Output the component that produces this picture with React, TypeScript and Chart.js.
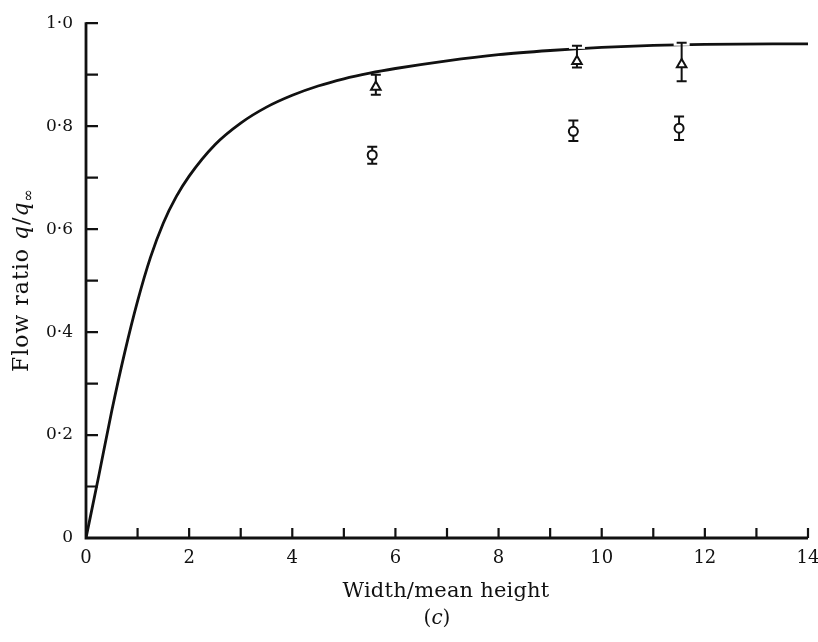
import React, { useEffect, useRef } from 'react';
import { Chart, registerables } from 'chart.js';

Chart.register(...registerables);

// Theoretical curve
const curveX = [0, 0.25, 0.5, 0.75, 1.0, 1.25, 1.5, 1.75, 2.0, 2.5, 3.0, 3.5, 4.0, 4.5, 5.0, 5.5, 6.0, 7.0, 8.0, 9.0, 10.0, 11.0, 12.0, 14.0];
const curveY = [0, 0.122, 0.247, 0.36, 0.46, 0.545, 0.612, 0.663, 0.703, 0.764, 0.806, 0.837, 0.86, 0.878, 0.892, 0.903, 0.912, 0.927, 0.939, 0.947, 0.953, 0.957, 0.959, 0.96];

// Triangle data with error bars
const triX = [5.62, 9.52, 11.55];
const triY = [0.876, 0.926, 0.92];
const triLow = [0.861, 0.914, 0.887];
const triHigh = [0.9, 0.956, 0.962];

// Circle data with error bars
const circX = [5.55, 9.45, 11.5];
const circY = [0.744, 0.79, 0.796];
const circLow = [0.727, 0.771, 0.773];
const circHigh = [0.76, 0.811, 0.819];

// Tick labels
const xTickLabels = ['0', '2', '4', '6', '8', '10', '12', '14'];
const yTickLabels = ['0', '0·2', '0·4', '0·6', '0·8', '1·0'];

const xTitle = 'Width/mean height';
const captionLetter = 'c';

const SERIF = '"DejaVu Serif", serif';

function curveAt(xv: number): number {
  for (let i = 1; i < curveX.length; i++) {
    if (xv <= curveX[i]) {
      const t = (xv - curveX[i - 1]) / (curveX[i] - curveX[i - 1]);
      return curveY[i - 1] + t * (curveY[i] - curveY[i - 1]);
    }
  }
  return curveY[curveY.length - 1];
}

export default function App() {
  const ref = useRef<HTMLCanvasElement | null>(null);

  useEffect(() => {
    document.body.style.margin = '0';
    const canvas = ref.current;
    if (!canvas) return;

    const axesPlugin = {
      id: 'axesInward',
      beforeDatasetsDraw(chart: any) {
        const { ctx, chartArea: a, scales } = chart;
        const x = scales.x;
        const y = scales.y;
        ctx.save();
        ctx.strokeStyle = '#111';
        ctx.lineCap = 'butt';
        ctx.lineWidth = 2.8;
        ctx.beginPath();
        ctx.moveTo(a.left, a.top - 1);
        ctx.lineTo(a.left, a.bottom);
        ctx.lineTo(a.right, a.bottom);
        ctx.stroke();
        ctx.lineWidth = 2.2;
        ctx.beginPath();
        for (let k = 1; k <= 10; k++) {
          const py = y.getPixelForValue(k / 10);
          ctx.moveTo(a.left, py);
          ctx.lineTo(a.left + 12, py);
        }
        for (let v = 1; v <= 14; v++) {
          const px = x.getPixelForValue(v);
          ctx.moveTo(px, a.bottom);
          ctx.lineTo(px, a.bottom - 10);
        }
        ctx.stroke();
        ctx.restore();
      },
    };

    const drawBars = (chart: any, xs: number[], lows: number[], highs: number[]) => {
      const { ctx, scales } = chart;
      const x = scales.x;
      const y = scales.y;
      for (let i = 0; i < xs.length; i++) {
        const px = x.getPixelForValue(xs[i]);
        const pl = y.getPixelForValue(lows[i]);
        const ph = y.getPixelForValue(highs[i]);
        if (highs[i] >= curveAt(xs[i])) {
          ctx.strokeStyle = '#fff';
          ctx.lineWidth = 6;
          ctx.beginPath();
          ctx.moveTo(px - 8, ph);
          ctx.lineTo(px + 8, ph);
          ctx.stroke();
        }
        ctx.strokeStyle = '#111';
        ctx.lineWidth = 2;
        ctx.beginPath();
        ctx.moveTo(px, pl);
        ctx.lineTo(px, ph);
        ctx.moveTo(px - 5, pl);
        ctx.lineTo(px + 5, pl);
        ctx.moveTo(px - 5, ph);
        ctx.lineTo(px + 5, ph);
        ctx.stroke();
      }
    };

    const errorBarPlugin = {
      id: 'errorBars',
      afterDatasetDraw(chart: any, args: any) {
        if (chart.data.datasets[args.index].label !== 'curve') return;
        const { ctx } = chart;
        ctx.save();
        drawBars(chart, triX, triLow, triHigh);
        drawBars(chart, circX, circLow, circHigh);
        ctx.restore();
      },
    };

    const drawRuns = (ctx: any, runs: any[], cx0: number, cy: number, spacing: number) => {
      let cx = cx0;
      runs.forEach((r) => {
        ctx.font = r.f;
        ctx.letterSpacing = `${spacing}px`;
        ctx.fillText(r.t, cx, cy + (r.dy || 0));
        cx += ctx.measureText(r.t).width;
      });
    };
    const measureRuns = (ctx: any, runs: any[], spacing: number) => {
      let total = 0;
      runs.forEach((r) => {
        ctx.font = r.f;
        ctx.letterSpacing = `${spacing}px`;
        total += ctx.measureText(r.t).width;
      });
      return total;
    };

    const titlesPlugin = {
      id: 'titles',
      afterDraw(chart: any) {
        const { ctx } = chart;
        ctx.save();
        ctx.fillStyle = '#111';
        ctx.textBaseline = 'alphabetic';
        ctx.textAlign = 'left';

        // x title
        const xr = [{ t: xTitle, f: `21px ${SERIF}` }];
        const xw = measureRuns(ctx, xr, 0.2);
        drawRuns(ctx, xr, 446 - xw / 2, 597, 0.2);

        // caption (c)
        const cr = [
          { t: '(', f: `20px ${SERIF}` },
          { t: captionLetter, f: `italic 20px ${SERIF}` },
          { t: ')', f: `20px ${SERIF}` },
        ];
        const cw = measureRuns(ctx, cr, 0);
        drawRuns(ctx, cr, 437 - cw / 2, 624, 0);

        // Y title with italic q and subscript infinity
        const runs = [
          { t: 'Flow ratio ', f: `22px ${SERIF}`, dy: 0 },
          { t: 'q', f: `italic 22px ${SERIF}`, dy: 0 },
          { t: '/', f: `22px ${SERIF}`, dy: 0 },
          { t: 'q', f: `italic 22px ${SERIF}`, dy: 0 },
          { t: '∞', f: `15px ${SERIF}`, dy: 5 },
        ];
        const sp = 1;
        const total = measureRuns(ctx, runs, sp);
        ctx.translate(28, 280 + total / 2);
        ctx.rotate(-Math.PI / 2);
        drawRuns(ctx, runs, 0, 0, sp);
        ctx.restore();
      },
    };

    const chart = new Chart(canvas, {
      type: 'scatter',
      data: {
        datasets: [
          {
            label: 'triangles',
            data: triX.map((v, i) => ({ x: v, y: triY[i] })),
            pointStyle: 'triangle',
            pointRadius: 5.5,
            pointBorderWidth: 2,
            pointBackgroundColor: '#fff',
            pointBorderColor: '#111',
            showLine: false,
            order: 1,
          },
          {
            label: 'circles',
            data: circX.map((v, i) => ({ x: v, y: circY[i] })),
            pointStyle: 'circle',
            pointRadius: 4.5,
            pointBorderWidth: 2,
            pointBackgroundColor: '#fff',
            pointBorderColor: '#111',
            showLine: false,
            order: 1,
          },
          {
            label: 'curve',
            data: curveX.map((v, i) => ({ x: v, y: curveY[i] })),
            showLine: true,
            pointRadius: 0,
            borderColor: '#111',
            borderWidth: 2.8,
            cubicInterpolationMode: 'monotone',
            fill: false,
            order: 3,
          },
        ],
      },
      options: {
        responsive: false,
        animation: false,
        devicePixelRatio: 1,
        layout: { padding: { left: 0, top: 14, right: 0, bottom: 0 } },
        plugins: {
          legend: { display: false },
          tooltip: { enabled: false },
          title: { display: false },
        },
        scales: {
          x: {
            type: 'linear',
            min: 0,
            max: 14,
            grid: { display: false, drawTicks: false },
            border: { display: false },
            ticks: {
              stepSize: 1,
              autoSkip: false,
              maxRotation: 0,
              padding: 10,
              color: '#111',
              font: { family: SERIF, size: 18 },
              callback: (v: any) => (Number(v) % 2 === 0 ? xTickLabels[Number(v) / 2] : ''),
            },
            afterFit: (s: any) => {
              s.height = 104;
              s.paddingLeft = 0;
              s.paddingRight = 10;
            },
          },
          y: {
            type: 'linear',
            min: 0,
            max: 1,
            grid: { display: false, drawTicks: false },
            border: { display: false },
            ticks: {
              stepSize: 0.1,
              autoSkip: false,
              padding: 13,
              color: '#111',
              font: { family: SERIF, size: 17 },
              callback: (v: any) => {
                const k = Math.round(Number(v) * 10);
                return k % 2 === 0 ? yTickLabels[k / 2] : '';
              },
            },
            afterFit: (s: any) => {
              s.width = 86;
            },
          },
        },
      },
      plugins: [axesPlugin, errorBarPlugin, titlesPlugin],
    } as any);

    return () => chart.destroy();
  }, []);

  return (
    <canvas
      ref={ref}
      width={818}
      height={642}
      style={{ display: 'block', width: '818px', height: '642px' }}
    />
  );
}
